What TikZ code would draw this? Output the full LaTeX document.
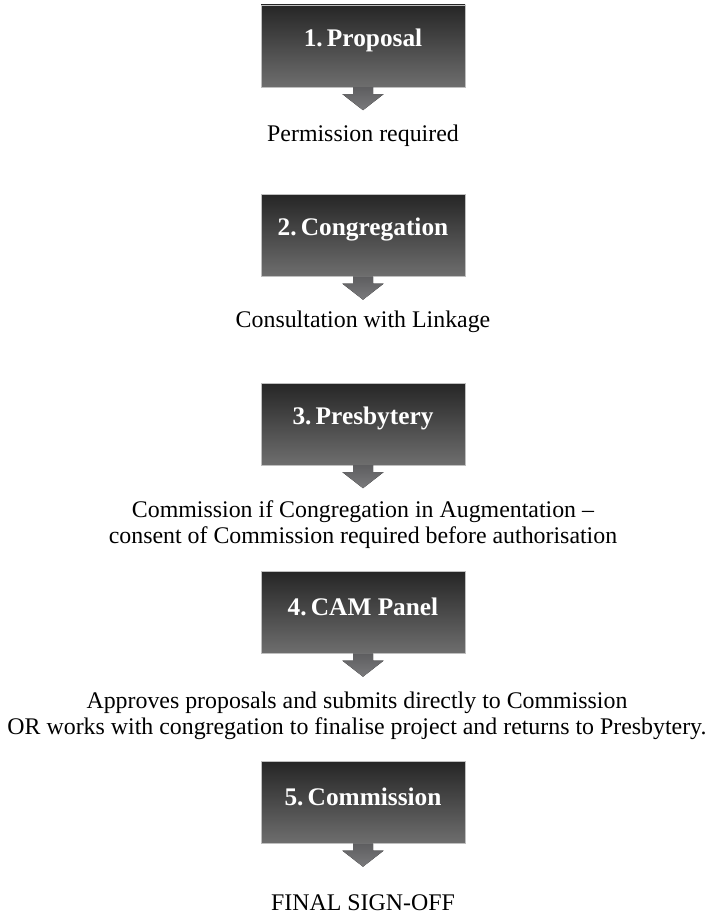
\documentclass[tikz,border=0pt]{standalone}
\usepackage{fontspec}
\setmainfont{Liberation Serif}
\definecolor{boxtop}{HTML}{262626}
\definecolor{boxbot}{HTML}{6E6E6E}
\definecolor{arrtop}{HTML}{5E5E60}
\definecolor{arrbot}{HTML}{7A7A7C}
\tikzset{
  stagebox/.style={rectangle, inner sep=0pt, minimum width=153pt, minimum height=61.5pt,
    top color=boxtop, bottom color=boxbot, draw=gray!50, line width=0.3pt},
  stagetext/.style={text=white, font=\fontsize{19}{22}\selectfont\bfseries, inner sep=0pt},
  captext/.style={align=center, font=\fontsize{17.9}{19.5}\selectfont, inner sep=0pt},
  blockarrow/.style={top color=arrtop, bottom color=arrbot, draw=none}
}
\newcommand{\downarrowblock}[1]{%
  \fill[blockarrow] ([xshift=-7.5pt]#1.south) -- ([xshift=7.5pt]#1.south)
    -- ([xshift=7.5pt,yshift=-5.25pt]#1.south) -- ([xshift=15.4pt,yshift=-5.25pt]#1.south)
    -- ([yshift=-17.25pt]#1.south) -- ([xshift=-15.4pt,yshift=-5.25pt]#1.south)
    -- ([xshift=-7.5pt,yshift=-5.25pt]#1.south) -- cycle;}
\begin{document}
\begin{tikzpicture}[x=0.75pt,y=-0.75pt]
\useasboundingbox (0,0) rectangle (713,920);
\fill[white] (0,0) rectangle (713,920);

\node[stagebox] (b1) at (363,46) {};
\node[stagetext] (t1) at ([yshift=4.5pt]b1.center) {1.\,Proposal};
\downarrowblock{b1}
\node[captext] (c1) at (363,136) {Permission required};

\node[stagebox] (b2) at (363,235.5) {};
\node[stagetext] (t2) at ([yshift=4.5pt]b2.center) {2.\,Congregation};
\downarrowblock{b2}
\node[captext] (c2) at (363,322) {Consultation with Linkage};

\node[stagebox] (b3) at (363,424) {};
\node[stagetext] (t3) at ([yshift=4.5pt]b3.center) {3.\,Presbytery};
\downarrowblock{b3}
\node[captext] (c3) at (363,525) {Commission if Congregation in Augmentation –\\consent of Commission required before authorisation};

\node[stagebox] (b4) at (363,612.5) {};
\node[stagetext] (t4) at ([yshift=4.5pt]b4.center) {4.\,CAM Panel};
\downarrowblock{b4}
\node[captext] (c4) at (357,716) {Approves proposals and submits directly to Commission\\OR works with congregation to finalise project and returns to Presbytery.};

\node[stagebox] (b5) at (363,802.5) {};
\node[stagetext] (t5) at ([yshift=4.5pt]b5.center) {5.\,Commission};
\downarrowblock{b5}
\node[captext] (c5) at (363,903) {FINAL SIGN-OFF};
\end{tikzpicture}
\end{document}
